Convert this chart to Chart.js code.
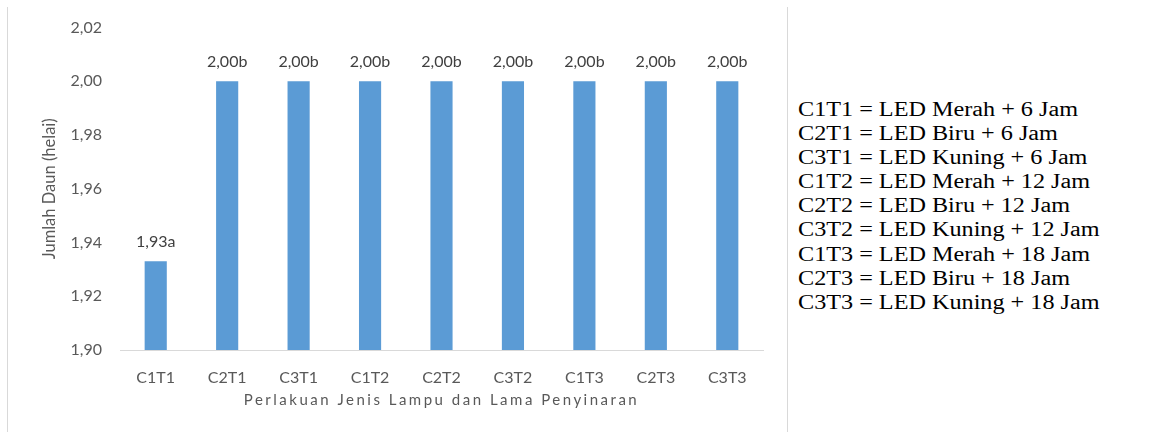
<!DOCTYPE html>
<html>
<head>
<meta charset="utf-8">
<script src="https://cdn.jsdelivr.net/npm/chart.js@4"></script>
<style>
  html, body { margin: 0; padding: 0; background: #fff; }
  #wrap { position: relative; width: 1166px; height: 432px; overflow: hidden; }
  #chartBox { position: absolute; left: 0; top: 0; width: 790px; height: 432px; }
  .vline { position: absolute; top: 7px; bottom: 0; width: 1px; background: #d9d9d9; }
  #keys { position: absolute; left: 798px; top: 97px; font-family: "Liberation Serif", "Times New Roman", serif;
          font-size: 20px; line-height: 24.1px; color: #000; white-space: nowrap;
          transform: scaleX(1.21); transform-origin: 0 0; }
</style>
</head>
<body>
<div id="wrap">
  <div class="vline" style="left:7px"></div>
  <div class="vline" style="left:787px"></div>
  <div id="chartBox"><canvas id="daunChart"></canvas></div>
  <div id="keys"></div>
</div>
<script>
// perlakuan (treatment) codes and mean leaf counts
var perlakuan = ['C1T1', 'C2T1', 'C3T1', 'C1T2', 'C2T2', 'C3T2', 'C1T3', 'C2T3', 'C3T3'];
var jumlahDaun = [1.933, 2.00, 2.00, 2.00, 2.00, 2.00, 2.00, 2.00, 2.00];
var notasi = ['a', 'b', 'b', 'b', 'b', 'b', 'b', 'b', 'b'];
var judulX = 'Perlakuan Jenis Lampu dan Lama Penyinaran';
var judulY = 'Jumlah Daun (helai)';
var keterangan = [
  'C1T1 = LED Merah + 6 Jam',
  'C2T1 = LED Biru + 6 Jam',
  'C3T1 = LED Kuning + 6 Jam',
  'C1T2 = LED Merah + 12 Jam',
  'C2T2 = LED Biru + 12 Jam',
  'C3T2 = LED Kuning + 12 Jam',
  'C1T3 = LED Merah + 18 Jam',
  'C2T3 = LED Biru + 18 Jam',
  'C3T3 = LED Kuning + 18 Jam'
];

document.getElementById('keys').innerHTML = keterangan.map(function(t) {
  return '<div>' + t + '</div>';
}).join('');

var huruf = 'Lato, "Open Sans", sans-serif';

function koma(v) {
  return Number(v).toFixed(2).replace('.', ',');
}

// value + notation letter above each bar, and the spaced-out x title
var labelAtas = {
  id: 'labelAtas',
  afterDatasetsDraw: function(chart) {
    var ctx = chart.ctx;
    var meta = chart.getDatasetMeta(0);
    ctx.save();
    ctx.font = '16px ' + huruf;
    ctx.fillStyle = '#404040';
    ctx.textAlign = 'center';
    ctx.textBaseline = 'middle';
    meta.data.forEach(function(bar, i) {
      ctx.fillText(koma(jumlahDaun[i]) + notasi[i], bar.x, bar.y - 19);
    });

    var area = chart.chartArea;
    ctx.font = '15px ' + huruf;
    ctx.fillStyle = '#595959';
    ctx.letterSpacing = '2.5px';
    ctx.fillText(judulX, (area.left + area.right) / 2, 400);
    ctx.restore();
  }
};

var ctxDaun = document.getElementById('daunChart').getContext('2d');
var daunChart = new Chart(ctxDaun, {
  type: 'bar',
  data: {
    labels: perlakuan,
    datasets: [{
      label: 'Jumlah Daun',
      data: jumlahDaun,
      backgroundColor: '#5b9bd5',
      borderWidth: 0,
      barPercentage: 0.31,
      categoryPercentage: 1
    }]
  },
  options: {
    responsive: true,
    maintainAspectRatio: false,
    animation: false,
    layout: { padding: { left: 8, top: 25, right: 27, bottom: 0 } },
    scales: {
      x: {
        grid: { display: false },
        border: { display: true, color: '#d9d9d9', width: 1 },
        ticks: { color: '#595959', font: { family: huruf, size: 16 }, padding: 10 },
        afterFit: function(s) { s.height = 82; }
      },
      y: {
        min: 1.90,
        max: 2.02,
        grid: { display: false, drawTicks: false },
        border: { display: false },
        ticks: {
          stepSize: 0.02,
          color: '#595959',
          font: { family: huruf, size: 16 },
          padding: 18,
          callback: function(v) { return koma(v); }
        },
        title: {
          display: true,
          text: judulY,
          color: '#595959',
          font: { family: huruf, size: 16.5 },
          padding: { top: 32, bottom: 0 }
        },
        afterFit: function(s) { s.width = 112; }
      }
    },
    plugins: {
      legend: { display: false },
      tooltip: { enabled: false }
    }
  },
  plugins: [labelAtas]
});
</script>
</body>
</html>
